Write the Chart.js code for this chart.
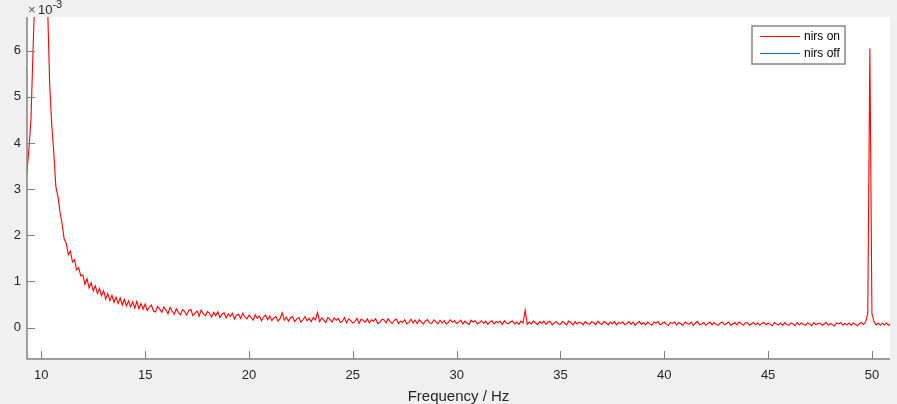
<!DOCTYPE html>
<html>
<head>
<meta charset="utf-8">
<script src="https://cdn.jsdelivr.net/npm/chart.js@4/dist/chart.umd.min.js"></script>
<style>
  html, body { margin: 0; padding: 0; background: #f0f0f0; }
  #wrap { width: 897px; height: 404px; }
</style>
</head>
<body>
<div id="wrap"><canvas id="spectrum" width="897" height="404"></canvas></div>
<script>
// Frequency bins (Hz): first bin and spacing
const freqStart = 9.3;
const freqStep = 0.1;

// Power, in units of 1e-3 (one row per Hz)
const powerOn = [
  3.35, 3.85, 4.5, 6.0, 7.4, 9.0, 10.5,
  11.2, 10.4, 8.7, 7.0, 5.3, 4.4, 3.8, 3.05, 2.85, 2.5,
  2.25, 1.92, 1.83, 1.58, 1.66, 1.42, 1.47, 1.25, 1.30, 1.12,
  1.14, 0.94, 1.06, 0.86, 0.97, 0.80, 0.91, 0.74, 0.85, 0.69,
  0.80, 0.62, 0.74, 0.58, 0.70, 0.55, 0.66, 0.52, 0.64, 0.49,
  0.61, 0.47, 0.58, 0.45, 0.56, 0.42, 0.57, 0.41, 0.52, 0.40,
  0.51, 0.37, 0.44, 0.49, 0.36, 0.34, 0.46, 0.40, 0.33, 0.45,
  0.38, 0.30, 0.44, 0.36, 0.29, 0.41, 0.33, 0.28, 0.39, 0.35,
  0.27, 0.37, 0.39, 0.26, 0.31, 0.36, 0.25, 0.38, 0.30, 0.26,
  0.35, 0.31, 0.23, 0.33, 0.26, 0.34, 0.22, 0.29, 0.32, 0.21,
  0.30, 0.24, 0.31, 0.19, 0.27, 0.29, 0.20, 0.31, 0.23, 0.19,
  0.27, 0.22, 0.16, 0.28, 0.20, 0.25, 0.15, 0.23, 0.27, 0.17,
  0.25, 0.15, 0.21, 0.24, 0.14, 0.20, 0.32, 0.16, 0.23, 0.14,
  0.21, 0.24, 0.13, 0.19, 0.22, 0.12, 0.17, 0.24, 0.15, 0.20,
  0.13, 0.22, 0.17, 0.33, 0.13, 0.21, 0.16, 0.11, 0.22, 0.18,
  0.12, 0.21, 0.16, 0.20, 0.11, 0.14, 0.22, 0.10, 0.19, 0.15,
  0.10, 0.13, 0.20, 0.09, 0.18, 0.16, 0.12, 0.19, 0.10, 0.17,
  0.14, 0.19, 0.09, 0.11, 0.18, 0.17, 0.10, 0.19, 0.13, 0.09,
  0.16, 0.18, 0.09, 0.14, 0.11, 0.17, 0.08, 0.12, 0.18, 0.10,
  0.16, 0.09, 0.17, 0.12, 0.08, 0.15, 0.17, 0.10, 0.09, 0.17,
  0.13, 0.08, 0.16, 0.10, 0.15, 0.08, 0.11, 0.17, 0.12, 0.15,
  0.09, 0.12, 0.16, 0.08, 0.14, 0.10, 0.07, 0.16, 0.12, 0.15,
  0.08, 0.11, 0.15, 0.09, 0.14, 0.07, 0.12, 0.15, 0.08, 0.13,
  0.11, 0.14, 0.07, 0.15, 0.10, 0.08, 0.13, 0.14, 0.08, 0.12,
  0.07, 0.14, 0.10, 0.38, 0.07, 0.12, 0.08, 0.14, 0.10, 0.07,
  0.13, 0.09, 0.14, 0.07, 0.12, 0.14, 0.06, 0.10, 0.13, 0.08,
  0.07, 0.13, 0.10, 0.06, 0.14, 0.11, 0.06, 0.13, 0.08, 0.12,
  0.10, 0.06, 0.13, 0.09, 0.07, 0.13, 0.11, 0.06, 0.14, 0.09,
  0.07, 0.13, 0.10, 0.06, 0.12, 0.08, 0.13, 0.06, 0.11, 0.09,
  0.12, 0.06, 0.09, 0.13, 0.07, 0.12, 0.05, 0.10, 0.13, 0.07,
  0.11, 0.06, 0.12, 0.08, 0.05, 0.12, 0.10, 0.13, 0.06, 0.09,
  0.12, 0.07, 0.05, 0.11, 0.09, 0.12, 0.06, 0.11, 0.08, 0.05,
  0.12, 0.09, 0.07, 0.12, 0.05, 0.10, 0.13, 0.06, 0.08, 0.11,
  0.05, 0.09, 0.12, 0.06, 0.11, 0.07, 0.05, 0.10, 0.12, 0.06,
  0.09, 0.12, 0.05, 0.08, 0.11, 0.06, 0.12, 0.09, 0.05, 0.10,
  0.11, 0.05, 0.08, 0.11, 0.06, 0.10, 0.05, 0.09, 0.11, 0.06,
  0.10, 0.07, 0.04, 0.11, 0.08, 0.06, 0.10, 0.05, 0.11, 0.07,
  0.05, 0.10, 0.08, 0.04, 0.11, 0.06, 0.10, 0.07, 0.05, 0.10,
  0.08, 0.04, 0.11, 0.06, 0.09, 0.10, 0.05, 0.08, 0.11, 0.05,
  0.09, 0.06, 0.04, 0.10, 0.08, 0.11, 0.05, 0.09, 0.06, 0.10,
  0.05, 0.10, 0.07, 0.04, 0.09, 0.11, 0.07, 0.12, 0.32, 6.05,
  0.30, 0.13, 0.06, 0.10, 0.05, 0.09, 0.06, 0.10, 0.05, 0.09
];

// second trace is listed in the legend but nothing of it is visible
const powerOff = [];

const seriesNames = ["nirs on", "nirs off"];
const seriesColors = ["#ff0000", "#0072bd"];

const xTicks = [10, 15, 20, 25, 30, 35, 40, 45, 50];
const yTicks = [0, 1, 2, 3, 4, 5, 6];
const xRange = [9.31, 50.87];
const yRange = [-0.68, 6.73];

const textColor = "#262626";
const axisColor = "#808080";
const fontFamily = "'Liberation Sans', Arial, Helvetica, sans-serif";

function toPoints(values) {
  return values.map((v, i) => ({ x: +(freqStart + i * freqStep).toFixed(2), y: v }));
}

// MATLAB-like frame: grey figure, white axes, inward ticks, legend box, exponent label
const matlabFrame = {
  id: "matlabFrame",
  beforeDraw(chart) {
    const { ctx, chartArea: a } = chart;
    ctx.save();
    ctx.fillStyle = "#f0f0f0";
    ctx.fillRect(0, 0, chart.width, chart.height);
    ctx.fillStyle = "#ffffff";
    ctx.fillRect(a.left, a.top, a.right - a.left, a.bottom - a.top);
    ctx.restore();
  },
  afterDraw(chart) {
    const { ctx, chartArea: a, scales } = chart;
    ctx.save();

    // inward tick marks
    ctx.strokeStyle = axisColor;
    ctx.lineWidth = 1;
    ctx.beginPath();
    xTicks.forEach((t) => {
      const px = Math.round(scales.x.getPixelForValue(t)) + 0.5;
      ctx.moveTo(px, a.bottom);
      ctx.lineTo(px, a.bottom - 8);
    });
    yTicks.forEach((t) => {
      const py = Math.round(scales.y.getPixelForValue(t)) + 0.5;
      ctx.moveTo(a.left, py);
      ctx.lineTo(a.left + 8, py);
    });
    ctx.stroke();

    // axis lines (left and bottom only)
    ctx.lineWidth = 1.5;
    ctx.beginPath();
    ctx.moveTo(a.left, a.top);
    ctx.lineTo(a.left, a.bottom);
    ctx.lineTo(a.right, a.bottom);
    ctx.stroke();

    // x label
    ctx.fillStyle = textColor;
    ctx.font = "15px " + fontFamily;
    ctx.textAlign = "center";
    ctx.textBaseline = "alphabetic";
    ctx.fillText("Frequency / Hz", (a.left + a.right) / 2, 401);

    // exponent label
    ctx.textAlign = "left";
    ctx.font = "13px " + fontFamily;
    ctx.fillStyle = "#555555";
    ctx.fillText("\u00d7", a.left + 1, 14);
    ctx.fillStyle = textColor;
    ctx.fillText("10", a.left + 11, 14);
    const w = ctx.measureText("10").width;
    ctx.font = "11px " + fontFamily;
    ctx.fillText("-3", a.left + 11 + w, 8);

    // legend
    const lx = 752, ly = 26, lw = 93, lh = 38;
    ctx.fillStyle = "#ffffff";
    ctx.fillRect(lx, ly, lw, lh);
    ctx.strokeStyle = "#888888";
    ctx.lineWidth = 1.5;
    ctx.strokeRect(lx, ly, lw, lh);
    ctx.font = "12px " + fontFamily;
    ctx.textBaseline = "middle";
    chart.data.datasets.forEach((ds, i) => {
      const y = ly + 10.5 + i * 17;
      ctx.strokeStyle = ds.borderColor;
      ctx.lineWidth = 1;
      ctx.beginPath();
      ctx.moveTo(lx + 8, y);
      ctx.lineTo(lx + 48, y);
      ctx.stroke();
      ctx.fillStyle = "#000000";
      ctx.fillText(ds.label, lx + 52, y);
    });

    ctx.restore();
  },
};

const ctx = document.getElementById("spectrum").getContext("2d");
new Chart(ctx, {
  type: "line",
  data: {
    datasets: [
      {
        label: seriesNames[0],
        data: toPoints(powerOn),
        borderColor: seriesColors[0],
        borderWidth: 1.1,
        pointRadius: 0,
        tension: 0,
      },
      {
        label: seriesNames[1],
        data: toPoints(powerOff),
        borderColor: seriesColors[1],
        borderWidth: 1,
        pointRadius: 0,
        tension: 0,
      },
    ],
  },
  options: {
    responsive: false,
    animation: false,
    layout: { padding: { left: 0, top: 17, right: 7, bottom: 0 } },
    plugins: {
      legend: { display: false },
      tooltip: { enabled: false },
    },
    scales: {
      x: {
        type: "linear",
        min: xRange[0],
        max: xRange[1],
        afterFit: (scale) => { scale.height = 45; },
        afterBuildTicks: (scale) => { scale.ticks = xTicks.map((v) => ({ value: v })); },
        grid: { display: false, drawTicks: false },
        border: { display: false },
        ticks: {
          padding: 9,
          color: textColor,
          font: { family: fontFamily, size: 13 },
          maxRotation: 0,
        },
      },
      y: {
        type: "linear",
        min: yRange[0],
        max: yRange[1],
        afterFit: (scale) => { scale.width = 27; },
        afterBuildTicks: (scale) => { scale.ticks = yTicks.map((v) => ({ value: v })); },
        grid: { display: false, drawTicks: false },
        border: { display: false },
        ticks: {
          padding: 6,
          color: textColor,
          font: { family: fontFamily, size: 13 },
        },
      },
    },
  },
  plugins: [matlabFrame],
});
</script>
</body>
</html>
